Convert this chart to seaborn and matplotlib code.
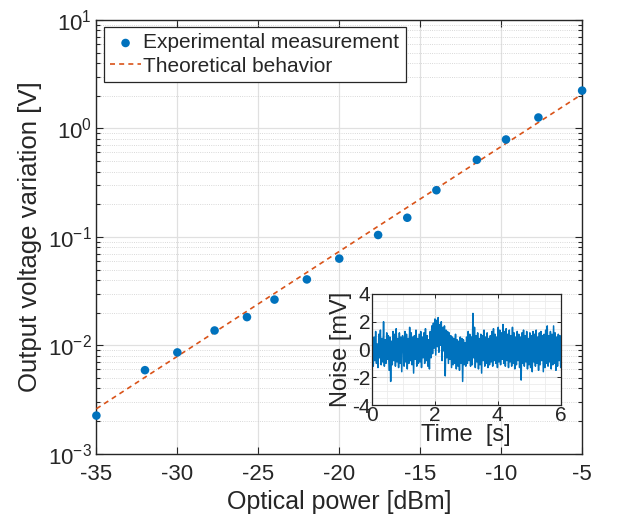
import numpy as np
import pandas as pd
import matplotlib
matplotlib.use("Agg")
import matplotlib.pyplot as plt
from matplotlib.ticker import LogLocator, MultipleLocator, NullFormatter
import seaborn as sns

# Data
power_dbm = [-35, -32, -30, -27.7, -25.7, -24, -22, -20, -17.6, -15.8, -14, -11.5, -9.7, -7.7, -5]
voltage_v = [2.25e-3, 5.9e-3, 8.6e-3, 0.0137, 0.0182, 0.0264, 0.0405, 0.063, 0.104, 0.150,
             0.269, 0.513, 0.79, 1.26, 2.23]

theory_dbm = [-35, -5]
theory_v = [2.6e-3, 2.07]

# inset noise trace [mV], evenly sampled over 0..6 s
noise_mv = [
    -1.9, 0.6, -1.2, 0.9, -0.8, 1.3, -1.0, 0.4, -1.3, 1.1, -0.6, 1.4, -1.1, 0.8, -0.9, 2.0, -1.2, 0.7, -1.0, 1.2,
    -0.7, 1.0, -1.5, 0.9, -2.3, 0.6, -1.1, 1.3, -0.8, 1.1, -1.2, 1.5, -0.9, 0.8, -1.3, 1.2, -1.0, 0.9, -1.6, 1.0,
    0.7, -1.2, 1.3, -0.9, 1.1, -1.4, 0.8, -1.0, 1.6, -0.8, 1.2, -1.1, 0.9, -1.7, 1.0, -0.7, 1.4, -1.2, 0.8, -1.0,
    1.1, -0.9, 1.3, -1.3, 0.9, -0.6, 1.2, -1.0, 1.5, -0.8, 1.0, -1.2, 0.7, -1.4, 1.3, -0.6, 1.7, -0.3, 1.9, 0.1,
    2.2, -0.4, 2.1, 0.2, 2.3, -0.2, 1.8, 0.3, 2.0, -0.8, 1.6, -0.1, 1.7, -1.9, 1.4, -0.6, 1.3, -1.0, 1.2, -0.7,
    1.0, -1.3, 0.9, -1.1, 0.8, -1.0, 1.1, -1.4, 0.7, -1.2, 0.6, -1.5, 0.9, -1.0, 0.8, -2.3, 0.7, -1.1, 0.5, -1.2,
    0.9, -1.0, 1.3, -0.8, 1.1, -1.2, 0.9, -1.1, 2.6, -0.6, 1.6, -1.3, 1.0, -0.9, 1.2, -1.4, 0.8, -1.1, 1.1, -1.7,
    1.0, -0.8, 1.4, -1.2, 0.9, -1.0, 1.2, -1.3, 0.8, -1.1, 1.0, -0.9, 1.3, -1.2, 1.5, -0.8, 1.1, -1.0, 0.9, -1.3,
    1.6, -0.9, 1.4, -1.1, 1.2, -0.7, 1.8, -1.0, 1.3, -1.2, 1.5, -0.8, 1.1, -1.3, 1.4, -0.9, 1.0, -1.2, 1.6, -1.0,
    1.2, -1.4, 0.9, -1.1, 1.3, -0.8, 1.1, -1.3, 0.9, -2.2, 1.2, -1.0, 1.4, -1.2, 1.0, -0.9, 1.3, -1.4, 0.8, -1.1,
    1.2, -1.3, 1.0, -1.6, 1.3, -0.9, 1.1, -1.2, 1.4, -1.0, 0.9, -1.5, 1.2, -1.1, 1.3, -0.8, 1.0, -1.6, 1.1, -1.3,
    1.4, -1.0, 1.7, -1.2, 1.0, -0.9, 1.3, -1.4, 1.1, -1.1, 1.7, -1.0, 1.2, -1.5, 0.9, -1.2, 1.1, -0.8, 1.0, -1.3,
]
noise_time = np.linspace(0, 6, len(noise_mv))

blue = "#0072BD"
orange = "#D95319"
dark = "#262626"

sns.set_style("ticks")
plt.rcParams["font.family"] = ["Liberation Sans", "DejaVu Sans"]
plt.rcParams["mathtext.fontset"] = "custom"
plt.rcParams["mathtext.rm"] = "Liberation Sans"
plt.rcParams["mathtext.it"] = "Liberation Sans:italic"
plt.rcParams["axes.unicode_minus"] = False

fig = plt.figure(figsize=(6.3, 5.24), dpi=100)
ax = fig.add_axes([0.153, 0.134, 0.771, 0.828])

meas = pd.DataFrame({"power": power_dbm, "volt": voltage_v})
theo = pd.DataFrame({"power": theory_dbm, "volt": theory_v})

sns.lineplot(data=theo, x="power", y="volt", ax=ax, color=orange, lw=1.2,
             linestyle=(0, (3, 2.5)), label="Theoretical behavior", zorder=3)
sns.scatterplot(data=meas, x="power", y="volt", ax=ax, color=blue, s=38,
                edgecolor="none", label="Experimental measurement", zorder=4, clip_on=False)

ax.set_yscale("log")
ax.set_xlim(-35, -5)
ax.set_ylim(1e-3, 1e1)
ax.set_xticks(range(-35, 0, 5))
ax.yaxis.set_major_locator(LogLocator(base=10, numticks=10))
ax.yaxis.set_minor_locator(LogLocator(base=10, subs=np.arange(2, 10), numticks=20))
ax.yaxis.set_minor_formatter(NullFormatter())
ax.grid(True, which="major", color="#e0e0e0", lw=0.9)
ax.grid(True, which="minor", axis="y", color="#cccccc", lw=0.6, linestyle=":")
ax.set_axisbelow(True)
ax.tick_params(which="both", direction="in", top=True, right=True, colors=dark,
               labelsize=16, width=0.8)
ax.tick_params(which="major", length=5)
ax.tick_params(which="minor", length=3)
ax.tick_params(axis="x", pad=7)
for sp in ax.spines.values():
    sp.set_color(dark)
    sp.set_linewidth(1.0)
ax.set_xlabel("Optical power [dBm]", fontsize=18, color=dark, labelpad=4)
ax.set_ylabel("Output voltage variation [V]", fontsize=18.5, color=dark, labelpad=4)

handles, labels = ax.get_legend_handles_labels()
order = [labels.index("Experimental measurement"), labels.index("Theoretical behavior")]
leg = ax.legend([handles[i] for i in order], [labels[i] for i in order],
                loc="upper left", fontsize=15, frameon=True, fancybox=False,
                edgecolor=dark, framealpha=1, borderaxespad=0.35, borderpad=0.3,
                handlelength=1.5, handletextpad=0.1, labelspacing=0.2)
leg.get_frame().set_linewidth(0.9)

# inset with the noise trace
ins = fig.add_axes([0.590, 0.227, 0.300, 0.212])
sns.lineplot(x=noise_time, y=noise_mv, ax=ins, color=blue, lw=1.1)
ins.set_xlim(0, 6)
ins.set_ylim(-4, 4)
ins.xaxis.set_major_locator(MultipleLocator(2))
ins.xaxis.set_minor_locator(MultipleLocator(0.5))
ins.yaxis.set_major_locator(MultipleLocator(2))
ins.yaxis.set_minor_locator(MultipleLocator(0.5))
ins.grid(True, which="major", color="#d8d8d8", lw=0.8)
ins.grid(True, which="minor", color="#ececec", lw=0.6)
ins.set_axisbelow(True)
ins.tick_params(which="both", direction="in", top=True, right=True, colors=dark,
                labelsize=15, width=0.7, pad=1)
ins.tick_params(which="major", length=3)
ins.tick_params(which="minor", length=0)
for sp in ins.spines.values():
    sp.set_color(dark)
    sp.set_linewidth(0.9)
ins.set_xlabel("Time  [s]", fontsize=17, color=dark, labelpad=-1)
ins.set_ylabel("Noise [mV]", fontsize=17, color=dark, labelpad=0)

fig.savefig("out.png", dpi=100)
